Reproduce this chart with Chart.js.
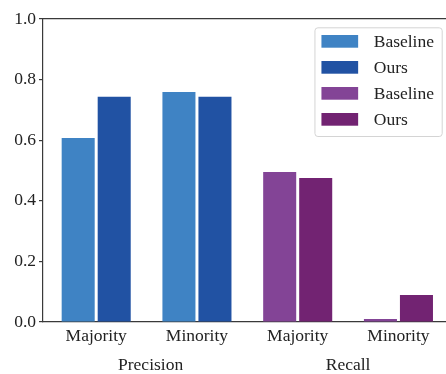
<!DOCTYPE html>
<html>
<head>
<meta charset="utf-8">
<script src="https://cdn.jsdelivr.net/npm/chart.js@4"></script>
<style>
  html, body { margin: 0; padding: 0; background: #fff; overflow: hidden; }
  #chartBox { width: 446px; height: 374px; }
</style>
</head>
<body>
<div id="chartBox"><canvas id="myChart" width="446" height="374"></canvas></div>
<script>
  // categories / groups
  var catNames = ['Majority', 'Minority', 'Majority', 'Minority'];
  var catPos = [0, 1, 2, 3];
  var groupNames = ['Precision', 'Recall'];
  var groupPos = [0.54, 2.5];
  var yTicks = [0, 0.2, 0.4, 0.6, 0.8, 1.0];
  var xMin = -0.528, xMax = 3.472;

  // series (null = no bar in that group)
  var precisionBaseline = [0.607, 0.759, null, null];
  var precisionOurs = [0.743, 0.743, null, null];
  var recallBaseline = [null, null, 0.495, 0.010];
  var recallOurs = [null, null, 0.475, 0.089];

  const serif = "'Liberation Serif', 'Times New Roman', serif";
  const axisColor = '#3a3a3a';
  const textColor = '#222';
  const tickFont = { family: serif, size: 17.5 };

  // legend with a frame, drawn inside the plot (top right)
  const frameLegend = {
    id: 'frameLegend',
    afterDatasetsDraw(chart) {
      const ctx = chart.ctx, area = chart.chartArea;
      const sets = chart.data.datasets;
      ctx.save();
      ctx.font = '17.5px ' + serif;
      const textW = Math.max(...sets.map(d => ctx.measureText(d.label).width));
      const w = 59.3 + textW + 7.7;
      const right = area.right - 4.3;
      const left = right - w;
      const top = area.top + 8.3;
      const h = 14 + 26 * (sets.length - 1) + 16.7;

      ctx.beginPath();
      ctx.roundRect(left + 0.5, top + 0.5, w, h, 3);
      ctx.fillStyle = 'rgba(255,255,255,0.8)';
      ctx.fill();
      ctx.strokeStyle = '#d4d4d4';
      ctx.lineWidth = 1;
      ctx.stroke();

      ctx.textBaseline = 'middle';
      ctx.textAlign = 'left';
      sets.forEach((d, i) => {
        const cy = top + 14 + i * 26;
        ctx.fillStyle = d.backgroundColor;
        ctx.fillRect(left + 7, cy - 6.3, 36.7, 12.7);
        ctx.fillStyle = textColor;
        ctx.fillText(d.label, left + 59.3, cy + 1);
      });
      ctx.restore();
    }
  };

  const data = {
    labels: catPos,
    datasets: [
      { label: 'Baseline', data: precisionBaseline, backgroundColor: '#3f83c4' },
      { label: 'Ours', data: precisionOurs, backgroundColor: '#2152a3' },
      { label: 'Baseline', data: recallBaseline, backgroundColor: '#834496' },
      { label: 'Ours', data: recallOurs, backgroundColor: '#722372' }
    ]
  };

  const config = {
    type: 'bar',
    data: data,
    plugins: [frameLegend],
    options: {
      responsive: false,
      animation: false,
      devicePixelRatio: 1,
      layout: { padding: { top: 19, left: 0, right: 0, bottom: 0 } },
      datasets: {
        bar: { skipNull: true, categoryPercentage: 0.715, barPercentage: 0.917, borderWidth: 0 }
      },
      plugins: { legend: { display: false }, tooltip: { enabled: false } },
      scales: {
        x: {
          type: 'linear', position: 'bottom', min: xMin, max: xMax, bounds: 'data', offset: false, weight: 0,
          grid: { display: false, drawTicks: false, offset: false },
          border: { display: true, color: axisColor, width: 1.2 },
          ticks: { autoSkip: false, maxRotation: 0, padding: 4, font: tickFont, color: textColor,
                   callback: (v, i) => catNames[i] },
          afterBuildTicks: s => { s.ticks = catPos.map(v => ({ value: v })); },
          afterFit: s => { s.height = 25; }
        },
        group: {
          type: 'linear', position: 'bottom', min: xMin, max: xMax, bounds: 'data', offset: false, weight: 1,
          grid: { display: false, drawTicks: false },
          border: { display: false },
          ticks: { autoSkip: false, maxRotation: 0, padding: 8, font: tickFont, color: textColor,
                   callback: (v, i) => groupNames[i] },
          afterBuildTicks: s => { s.ticks = groupPos.map(v => ({ value: v })); },
          afterFit: s => { s.height = 27; }
        },
        top: {
          type: 'linear', position: 'top', min: xMin, max: xMax, bounds: 'data', offset: false,
          grid: { display: false, drawTicks: false },
          border: { display: true, color: axisColor, width: 1.2 },
          ticks: { display: false },
          afterFit: s => { s.height = 0; }
        },
        y: {
          min: 0, max: 1,
          grid: { drawOnChartArea: false, tickLength: 4, color: axisColor, lineWidth: 1.2 },
          border: { display: true, color: axisColor, width: 1.2 },
          ticks: { padding: 3, font: tickFont, color: textColor, callback: v => v.toFixed(1) },
          afterBuildTicks: s => { s.ticks = yTicks.map(v => ({ value: v })); },
          afterFit: s => { s.width = 43; }
        }
      }
    }
  };

  const myChart = new Chart(document.getElementById('myChart'), config);
</script>
</body>
</html>
